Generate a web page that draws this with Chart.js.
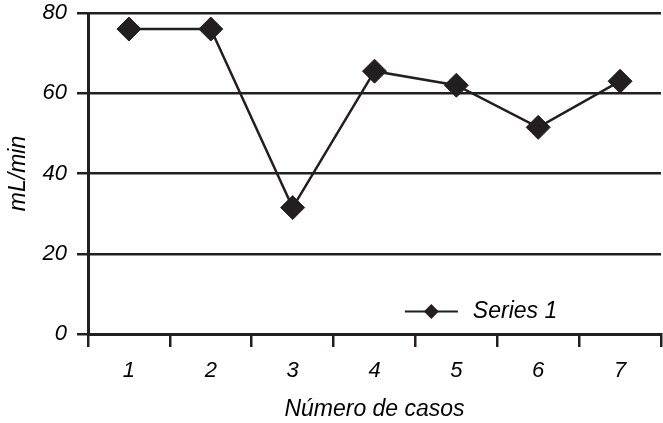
<!DOCTYPE html>
<html>
<head>
<meta charset="utf-8">
<script src="https://cdn.jsdelivr.net/npm/chart.js@4/dist/chart.umd.min.js"></script>
<style>
  html, body { margin: 0; padding: 0; background: #fff; }
  canvas { display: block; }
</style>
</head>
<body>
<canvas id="c" width="663" height="423"></canvas>
<script>
const categories = ['1', '2', '3', '4', '5', '6', '7'];
const series1 = [76, 76, 31.5, 65.5, 62, 51.5, 63];
const seriesName = 'Series 1';
const yTitle = 'mL/min';
const xTitle = 'Número de casos';

const INK = '#231f20';
const FONT = "'Liberation Sans', Arial, Helvetica, sans-serif";

const innerLegend = {
  id: 'innerLegend',
  afterDatasetsDraw(chart, args, opts) {
    const ctx = chart.ctx;
    const a = chart.chartArea;
    const ds = chart.data.datasets[0];
    const x0 = a.left + opts.xFrac * (a.right - a.left);
    const y = a.top + opts.yFrac * (a.bottom - a.top);
    ctx.save();
    ctx.strokeStyle = ds.borderColor;
    ctx.lineWidth = 2;
    ctx.beginPath();
    ctx.moveTo(x0, y);
    ctx.lineTo(x0 + opts.lineLen, y);
    ctx.stroke();
    Chart.helpers.drawPoint(ctx, {pointStyle: 'rectRot', radius: opts.markR, borderWidth: 1}, x0 + opts.lineLen / 2, y);
    ctx.fillStyle = ds.pointBackgroundColor;
    ctx.fill();
    ctx.fillStyle = '#000';
    ctx.font = 'italic 23px ' + FONT;
    ctx.textBaseline = 'middle';
    ctx.textAlign = 'left';
    ctx.fillText(ds.label, x0 + opts.lineLen + 15, y);
    ctx.restore();
  }
};

new Chart(document.getElementById('c'), {
  type: 'line',
  data: {
    labels: categories,
    datasets: [{
      label: seriesName,
      data: series1,
      borderColor: INK,
      borderWidth: 2.5,
      pointStyle: 'rectRot',
      pointRadius: 12,
      pointHoverRadius: 12,
      pointBackgroundColor: INK,
      pointBorderColor: INK,
      pointBorderWidth: 1,
      tension: 0,
      clip: false
    }]
  },
  options: {
    responsive: false,
    animation: false,
    events: [],
    layout: { autoPadding: false, padding: { top: 13, right: 2, left: 0, bottom: 0 } },
    plugins: {
      legend: { display: false },
      tooltip: { enabled: false },
      innerLegend: { xFrac: 0.553, yFrac: 0.93, lineLen: 53, markR: 6 }
    },
    scales: {
      x: {
        type: 'category',
        offset: true,
        grid: {
          offset: true,
          drawOnChartArea: false,
          drawTicks: true,
          tickLength: 13,
          color: INK,
          lineWidth: 2.5
        },
        border: { display: true, color: INK, width: 3 },
        ticks: {
          color: '#000',
          font: { family: FONT, size: 22, style: 'italic' },
          padding: 11,
          maxRotation: 0
        },
        title: {
          display: true,
          text: xTitle,
          color: '#000',
          font: { family: FONT, size: 23, style: 'italic' },
          padding: { top: 4, bottom: 0 }
        },
        afterFit(scale) {
          scale.height = 89;
          scale.paddingLeft = 0;
          scale.paddingRight = 0;
        }
      },
      y: {
        min: 0,
        max: 80,
        ticks: {
          stepSize: 20,
          color: '#000',
          font: { family: FONT, size: 22, style: 'italic' },
          padding: 10
        },
        grid: {
          color: INK,
          lineWidth: 2.5,
          tickLength: 11,
          drawTicks: true
        },
        border: { display: true, color: INK, width: 3 },
        title: {
          display: true,
          text: yTitle,
          color: '#000',
          font: { family: FONT, size: 23, style: 'italic' },
          padding: { top: 5, bottom: 2 }
        },
        afterFit(scale) {
          scale.width = 88;
          scale.paddingTop = 0;
          scale.paddingBottom = 0;
        }
      }
    }
  },
  plugins: [innerLegend]
});
</script>
</body>
</html>
